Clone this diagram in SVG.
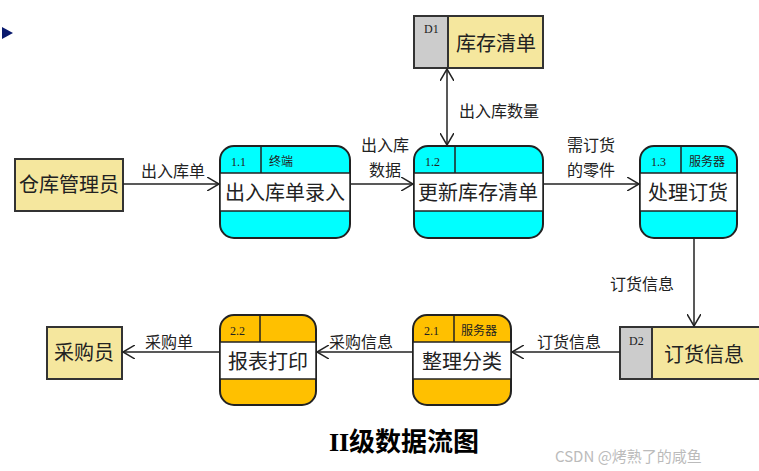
<svg xmlns="http://www.w3.org/2000/svg" width="759" height="471" viewBox="0 0 759 471">
<style>
text{font-family:"Noto Sans CJK SC","Liberation Sans",sans-serif;fill:#222}
.ext{fill:#f5e79e;stroke:#333;stroke-width:2}
.pc{stroke:#222;stroke-width:2}
.w{fill:#fff;stroke:#222;stroke-width:1.5}
.ln{stroke:#222;stroke-width:1.5;fill:none}
.big{font-size:20px}
.lbl{font-size:16px}
.sm{font-size:12px;font-family:"Liberation Serif","Noto Sans CJK SC",serif}
</style>
<defs>
<marker id="ah" markerWidth="14" markerHeight="14" refX="12" refY="7" orient="auto-start-reverse" markerUnits="userSpaceOnUse">
<path d="M0,0 L12,7 L0,14" fill="none" stroke="#222" stroke-width="1.5"/>
</marker>
</defs>
<polygon points="2,27 13,33 2,39" fill="#0a1a6e"/>
<g id="n-warehouse"><rect class="ext" x="15" y="159" width="108" height="52"/><text class="big" x="69" y="192" text-anchor="middle">仓库管理员</text></g>
<g id="n-11"><rect class="pc" x="220" y="146" width="130" height="92" rx="14" fill="#00ffff"/><rect class="w" x="220" y="173" width="130" height="38"/><line class="ln" x1="261" y1="146" x2="261" y2="173"/><text class="sm" x="231" y="166">1.1</text><text class="sm" x="269" y="166" fill="#006060">终端</text><text class="big" x="285" y="200" text-anchor="middle">出入库单录入</text></g>
<g id="n-12"><rect class="pc" x="414" y="146" width="129" height="92" rx="14" fill="#00ffff"/><rect class="w" x="414" y="173" width="129" height="38"/><line class="ln" x1="455" y1="146" x2="455" y2="173"/><text class="sm" x="425" y="166">1.2</text><text class="big" x="478" y="200" text-anchor="middle">更新库存清单</text></g>
<g id="n-13"><rect class="pc" x="640" y="146" width="97" height="92" rx="14" fill="#00ffff"/><rect class="w" x="640" y="173" width="97" height="38"/><line class="ln" x1="681" y1="146" x2="681" y2="173"/><text class="sm" x="651" y="166">1.3</text><text class="sm" x="689" y="166">服务器</text><text class="big" x="688" y="200" text-anchor="middle">处理订货</text></g>
<g id="n-d1"><rect x="414" y="16" width="129" height="52" fill="#f5e79e" stroke="#333" stroke-width="2"/><rect x="414" y="16" width="34" height="52" fill="#cccccc" stroke="#333" stroke-width="2"/><text class="sm" x="424" y="33">D1</text><text class="big" x="496" y="51" text-anchor="middle">库存清单</text></g>
<g id="n-d2"><rect x="620" y="327" width="145" height="52" fill="#f5e79e" stroke="#333" stroke-width="2"/><rect x="620" y="327" width="32" height="52" fill="#cccccc" stroke="#333" stroke-width="2"/><text class="sm" x="629" y="345">D2</text><text class="big" x="704" y="362" text-anchor="middle">订货信息</text></g>
<g id="n-21"><rect class="pc" x="413" y="315" width="98" height="90" rx="14" fill="#ffc000"/><rect class="w" x="413" y="342" width="98" height="37"/><line class="ln" x1="454" y1="315" x2="454" y2="342"/><text class="sm" x="424" y="335">2.1</text><text class="sm" x="461" y="335">服务器</text><text class="big" x="462" y="369" text-anchor="middle">整理分类</text></g>
<g id="n-22"><rect class="pc" x="220" y="315" width="96" height="90" rx="14" fill="#ffc000"/><rect class="w" x="220" y="342" width="96" height="37"/><line class="ln" x1="260" y1="315" x2="260" y2="342"/><text class="sm" x="230" y="335">2.2</text><text class="big" x="268" y="369" text-anchor="middle">报表打印</text></g>
<g id="n-buyer"><rect class="ext" x="47" y="327" width="75" height="52"/><text class="big" x="84" y="360" text-anchor="middle">采购员</text></g>
<g id="connectors">
<line class="ln" x1="123" y1="184" x2="219" y2="184" marker-end="url(#ah)"/>
<line class="ln" x1="350" y1="184" x2="413" y2="184" marker-end="url(#ah)"/>
<line class="ln" x1="543" y1="184" x2="639" y2="184" marker-end="url(#ah)"/>
<line class="ln" x1="447" y1="69" x2="447" y2="145" marker-start="url(#ah)" marker-end="url(#ah)"/>
<line class="ln" x1="694" y1="238" x2="694" y2="326" marker-end="url(#ah)"/>
<line class="ln" x1="620" y1="352" x2="512" y2="352" marker-end="url(#ah)"/>
<line class="ln" x1="413" y1="352" x2="317" y2="352" marker-end="url(#ah)"/>
<line class="ln" x1="220" y1="352" x2="123" y2="352" marker-end="url(#ah)"/>
<text class="lbl" x="141" y="177">出入库单</text>
<text class="lbl" x="385" y="151" text-anchor="middle">出入库</text>
<text class="lbl" x="385" y="176" text-anchor="middle">数据</text>
<text class="lbl" x="459" y="117">出入库数量</text>
<text class="lbl" x="591" y="151" text-anchor="middle">需订货</text>
<text class="lbl" x="591" y="176" text-anchor="middle">的零件</text>
<text class="lbl" x="610" y="290">订货信息</text>
<text class="lbl" x="537" y="348">订货信息</text>
<text class="lbl" x="329" y="348">采购信息</text>
<text class="lbl" x="145" y="348">采购单</text>
</g>
<text x="404" y="451" text-anchor="middle" style="font-family:'Liberation Serif','Noto Sans CJK SC',serif;font-size:26px;font-weight:bold;fill:#000">II级数据流图</text>
<text x="555" y="462" style="font-size:15px;fill:#bbb">CSDN @烤熟了的咸鱼</text>
</svg>
